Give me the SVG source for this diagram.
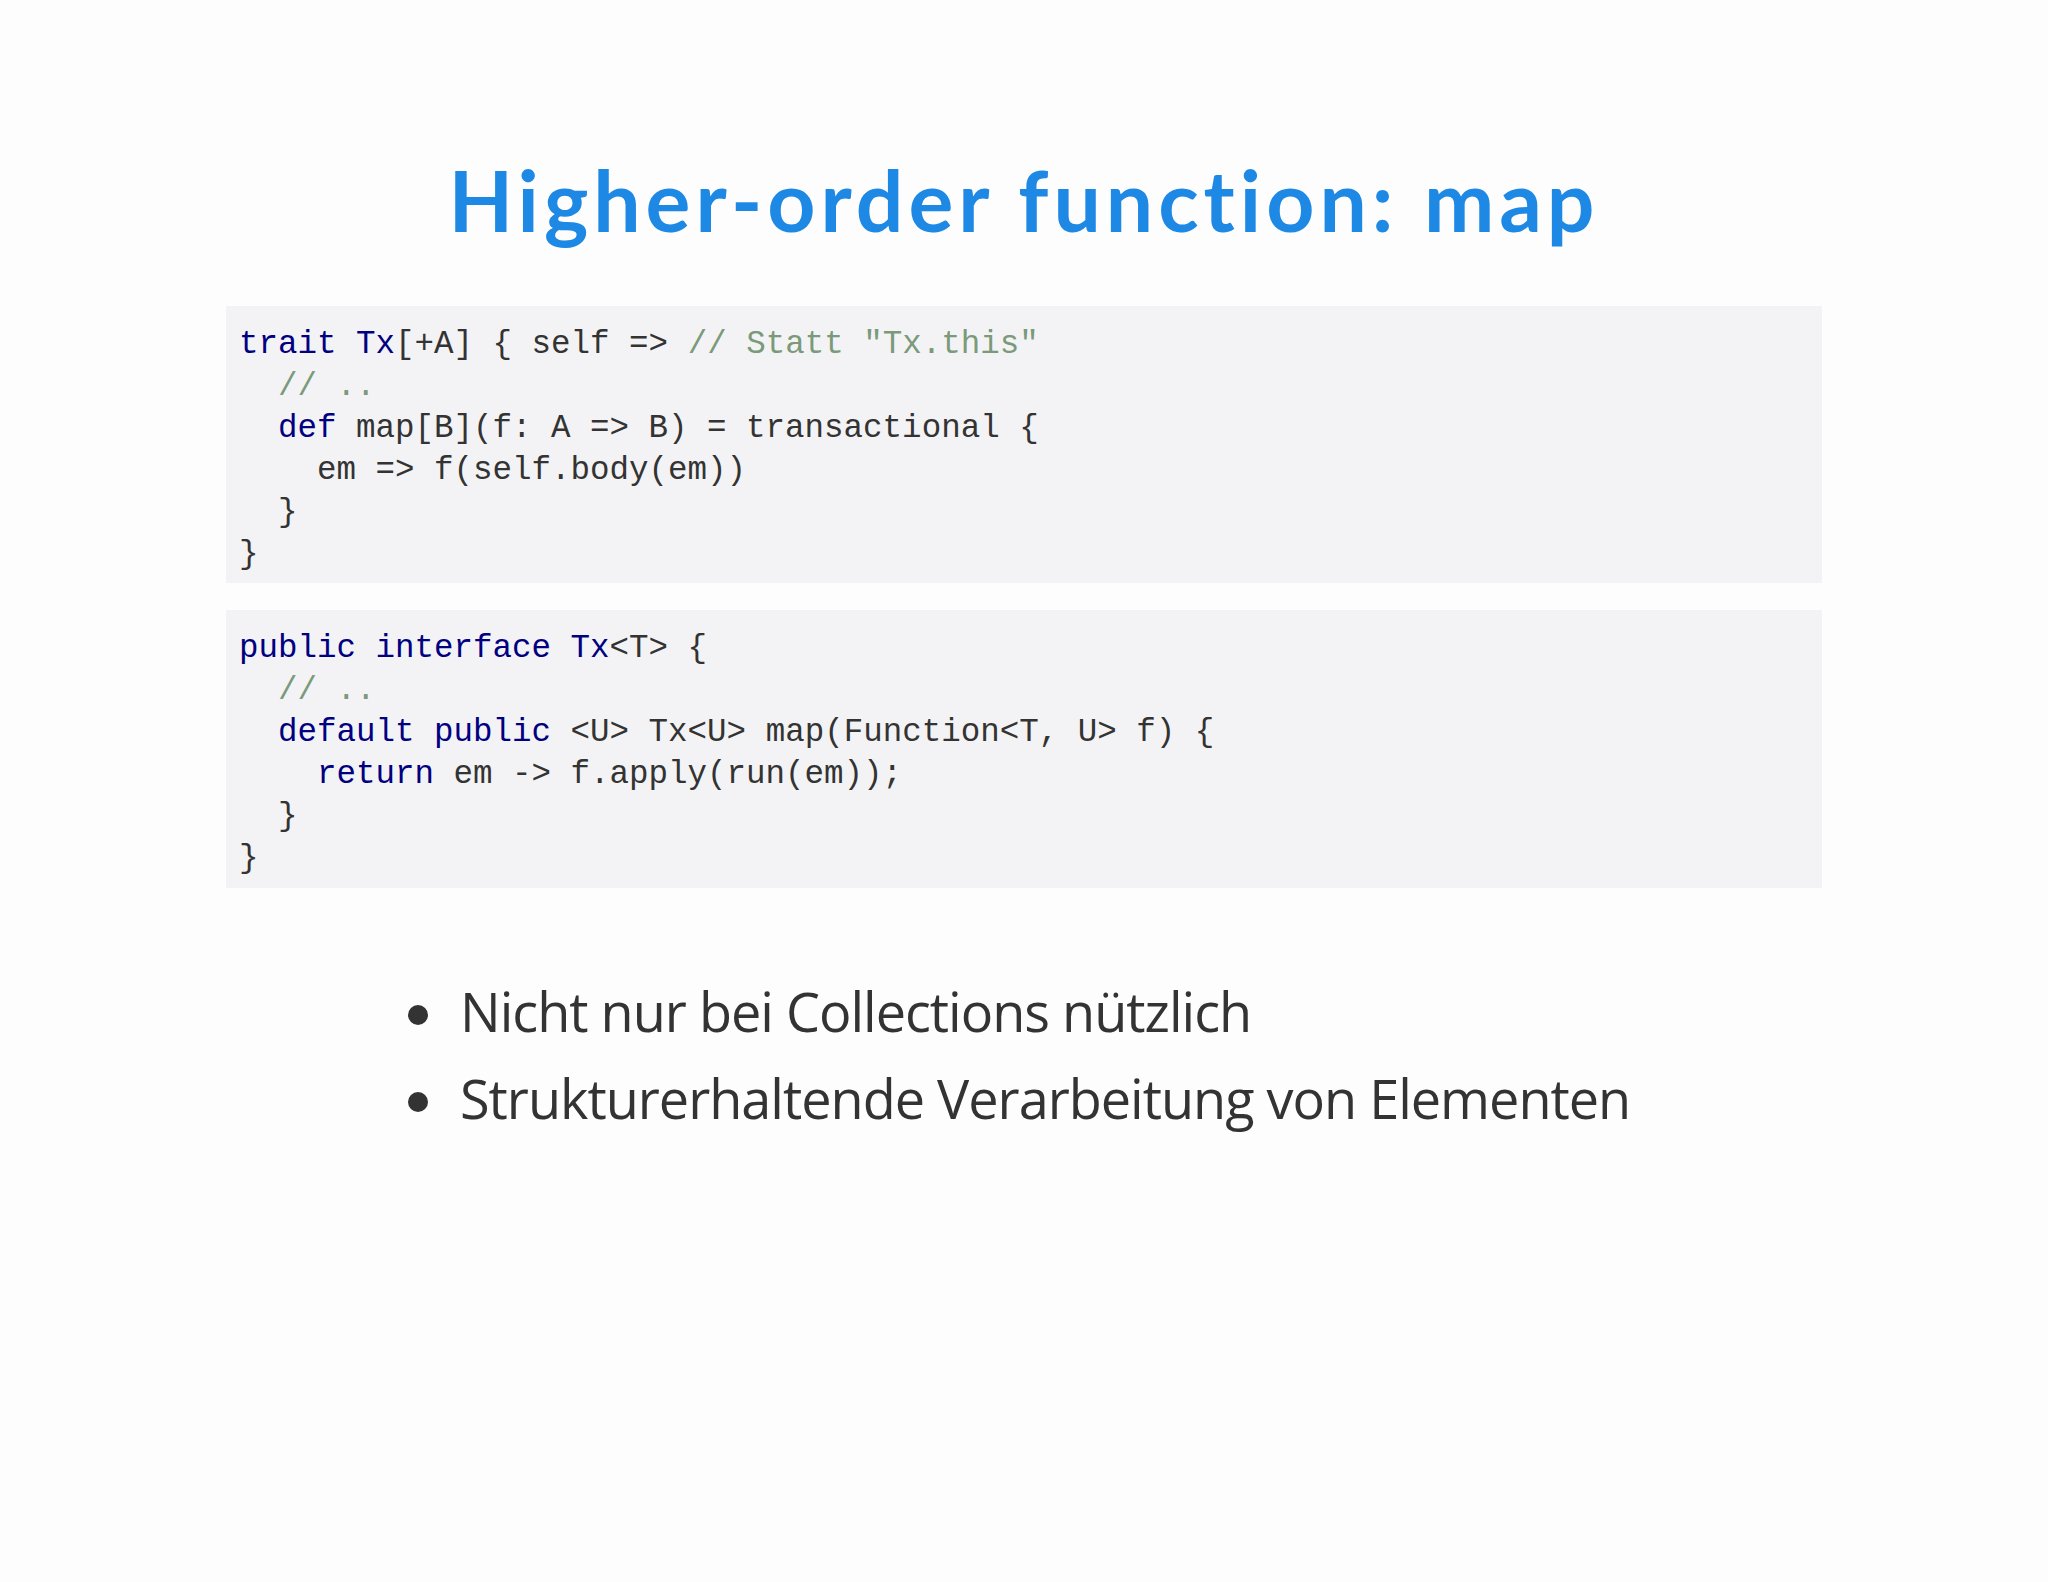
<svg xmlns="http://www.w3.org/2000/svg" width="2048" height="1582" viewBox="0 0 2048 1582">
<style>
.c{font-family:"Liberation Mono",monospace;font-size:32.5px;fill:#333;white-space:pre}
.k{fill:#000080}.m{fill:#7a9a7a}
.b{font-family:"Open Sans",sans-serif;font-size:54px;fill:#333;letter-spacing:-1px}
</style>
<rect width="2048" height="1582" fill="#fdfdfd"/>
<g id="title"><text x="1024" y="232" text-anchor="middle" font-family="Lato, sans-serif" font-weight="bold" font-size="84" letter-spacing="5" fill="#1e88e5">Higher-order function: map</text></g>
<g id="code1">
<rect x="226" y="306" width="1596" height="277" fill="#f3f3f5"/>
<text class="c" x="239" y="353"><tspan class="k">trait</tspan> <tspan class="k">Tx</tspan>[+A] { self =&gt; <tspan class="m">// Statt "Tx.this"</tspan></text>
<text class="c" x="239" y="395">  <tspan class="m">// ..</tspan></text>
<text class="c" x="239" y="437">  <tspan class="k">def</tspan> map[B](f: A =&gt; B) = transactional {</text>
<text class="c" x="239" y="479">    em =&gt; f(self.body(em))</text>
<text class="c" x="239" y="521">  }</text>
<text class="c" x="239" y="563">}</text>
</g>
<g id="code2">
<rect x="226" y="610" width="1596" height="278" fill="#f3f3f5"/>
<text class="c" x="239" y="657"><tspan class="k">public</tspan> <tspan class="k">interface</tspan> <tspan class="k">Tx</tspan>&lt;T&gt; {</text>
<text class="c" x="239" y="699">  <tspan class="m">// ..</tspan></text>
<text class="c" x="239" y="741">  <tspan class="k">default</tspan> <tspan class="k">public</tspan> &lt;U&gt; Tx&lt;U&gt; map(Function&lt;T, U&gt; f) {</text>
<text class="c" x="239" y="783">    <tspan class="k">return</tspan> em -&gt; f.apply(run(em));</text>
<text class="c" x="239" y="825">  }</text>
<text class="c" x="239" y="867">}</text>
</g>
<g id="bullets">
<circle cx="418" cy="1015" r="10" fill="#333"/>
<text class="b" x="460" y="1032">Nicht nur bei Collections nützlich</text>
<circle cx="418" cy="1102" r="10" fill="#333"/>
<text class="b" x="460" y="1119">Strukturerhaltende Verarbeitung von Elementen</text>
</g>
</svg>
